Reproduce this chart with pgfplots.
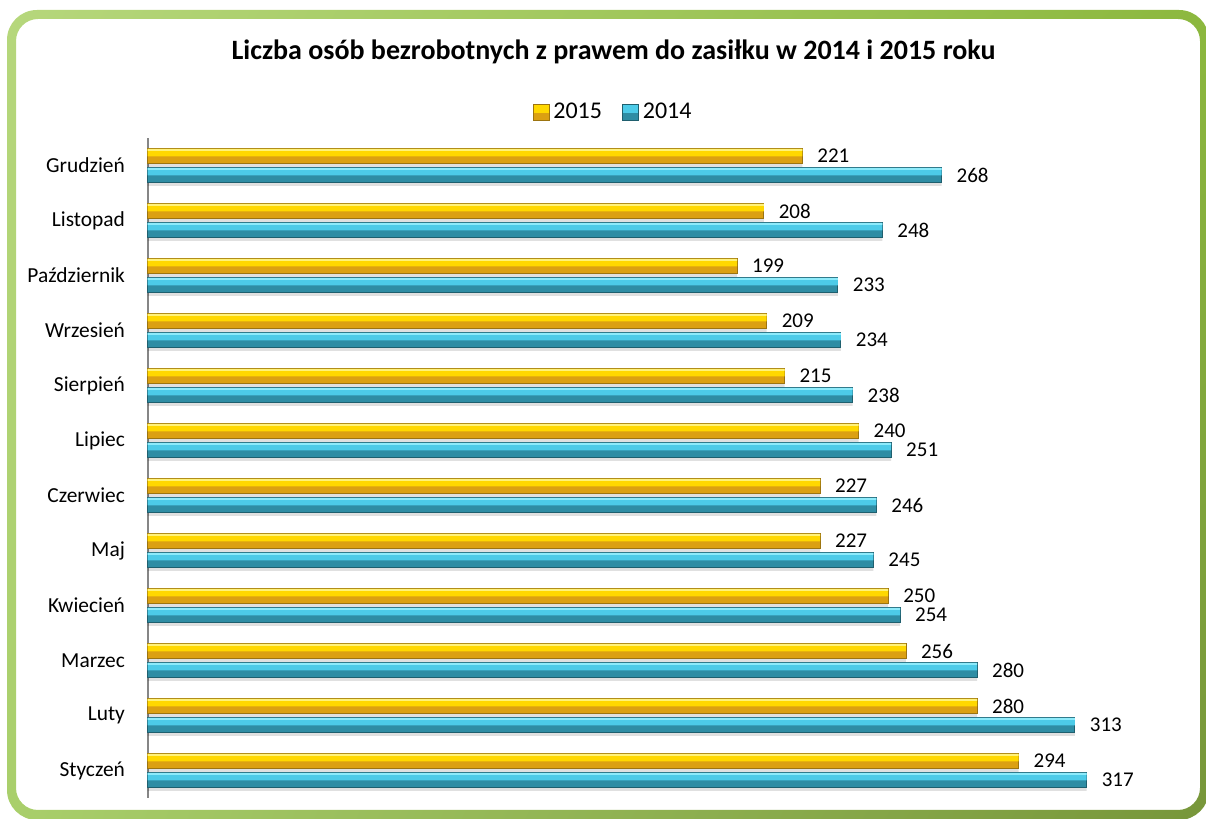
\documentclass[border=0pt]{standalone}
\usepackage{pgfplots}
\usepackage{pgfplotstable}
\pgfplotsset{compat=1.18}
\usetikzlibrary{shadings}
\usepackage{fontspec}
\setmainfont{Carlito}
\definecolor{frameUL}{HTML}{B6D77C}
\definecolor{frameUR}{HTML}{8CB83E}
\definecolor{frameLL}{HTML}{A9CF6B}
\definecolor{frameLR}{HTML}{77963A}
\definecolor{axisgray}{HTML}{868686}
\definecolor{yHi}{HTML}{FFF27A}
\definecolor{yMain}{HTML}{FFD800}
\definecolor{yBot}{HTML}{DBA012}
\definecolor{yEdge}{HTML}{9C7410}
\definecolor{bHi}{HTML}{8DEBFB}
\definecolor{bMain}{HTML}{4DCBE8}
\definecolor{bBot}{HTML}{2F8DA4}
\definecolor{bEdge}{HTML}{1F5F6E}
\pgfplotstableread{
idx v2015 v2014
0  294 317
1  280 313
2  256 280
3  250 254
4  227 245
5  227 246
6  240 251
7  215 238
8  209 234
9  199 233
10 208 248
11 221 268
}\datatable
\begin{document}
\begin{tikzpicture}
\useasboundingbox (0,0) rectangle (603pt,409.5pt);
\shade[even odd rule, upper left=frameUL, upper right=frameUR, lower left=frameLL, lower right=frameLR]
  [rounded corners=15pt] (3.5pt,-0.5pt) rectangle (604.5pt,404.5pt)
  [rounded corners=11pt] (8pt,4.5pt) rectangle (600pt,400pt);
\node[font=\bfseries\fontsize{14}{17}\selectfont] at (306.75pt,383.5pt) {Liczba osób bezrobotnych z prawem do zasiłku w 2014 i 2015 roku};
\begin{axis}[
  at={(73.75pt,10.5pt)}, anchor=south west, scale only axis,
  width=518.5pt, height=330pt,
  xmin=0, xmax=350, ymin=-0.5, ymax=11.5,
  axis x line=none, axis y line*=left,
  y axis line style={draw=axisgray, line width=1pt, -},
  ytick={0,...,11},
  yticklabels={Styczeń,Luty,Marzec,Kwiecień,Maj,Czerwiec,Lipiec,Sierpień,Wrzesień,Październik,Listopad,Grudzień},
  ytick style={draw=none},
  yticklabel style={font=\fontsize{10.7}{12}\selectfont, xshift=-3.5pt},
  xbar, clip=false,
  nodes near coords style={font=\fontsize{10.5}{12}\selectfont, black, anchor=west, xshift=4pt},
  /pgf/number format/assume math mode=true,
  legend style={at={(0.4499,1.0394)}, anchor=center, draw=none, fill=none,
    legend columns=2, font=\fontsize{12}{14}\selectfont,
    /tikz/every even column/.append style={column sep=8pt}},
]
% shadows
\addplot[forget plot, bar shift=3.0pt, bar width=7.5pt, draw=none, fill=black, fill opacity=0.12] table[x=v2015, y=idx] {\datatable};
\addplot[forget plot, bar shift=-6.5pt, bar width=7.5pt, draw=none, fill=black, fill opacity=0.12] table[x=v2014, y=idx] {\datatable};
% 2015 layers
\addplot[forget plot, bar shift=4.75pt, bar width=7.5pt, draw=yEdge, line width=0.4pt, fill=yBot,
  nodes near coords] table[x=v2015, y=idx] {\datatable};
\addplot[forget plot, bar shift=6.4pt, bar width=3.8pt, draw=none, fill=yMain] table[x=v2015, y=idx] {\datatable};
\addplot[forget plot, bar shift=7.75pt, bar width=1.0pt, draw=none, fill=yHi] table[x=v2015, y=idx] {\datatable};
% 2014 layers
\addplot[forget plot, bar shift=-4.75pt, bar width=7.5pt, draw=bEdge, line width=0.4pt, fill=bBot,
  nodes near coords] table[x=v2014, y=idx] {\datatable};
\addplot[forget plot, bar shift=-3.1pt, bar width=3.8pt, draw=none, fill=bMain] table[x=v2014, y=idx] {\datatable};
\addplot[forget plot, bar shift=-1.75pt, bar width=1.0pt, draw=none, fill=bHi] table[x=v2014, y=idx] {\datatable};
% legend
\addlegendimage{legend image code/.code={
  \fill[yBot] (0pt,-4pt) rectangle (8pt,4pt);
  \fill[yMain] (0pt,0pt) rectangle (8pt,4pt);
  \draw[yEdge, line width=0.3pt] (0pt,-4pt) rectangle (8pt,4pt);}}
\addlegendentry{2015}
\addlegendimage{legend image code/.code={
  \fill[bBot] (0pt,-4pt) rectangle (8pt,4pt);
  \fill[bMain] (0pt,0pt) rectangle (8pt,4pt);
  \draw[bEdge, line width=0.3pt] (0pt,-4pt) rectangle (8pt,4pt);}}
\addlegendentry{2014}
\end{axis}
\end{tikzpicture}
\end{document}
